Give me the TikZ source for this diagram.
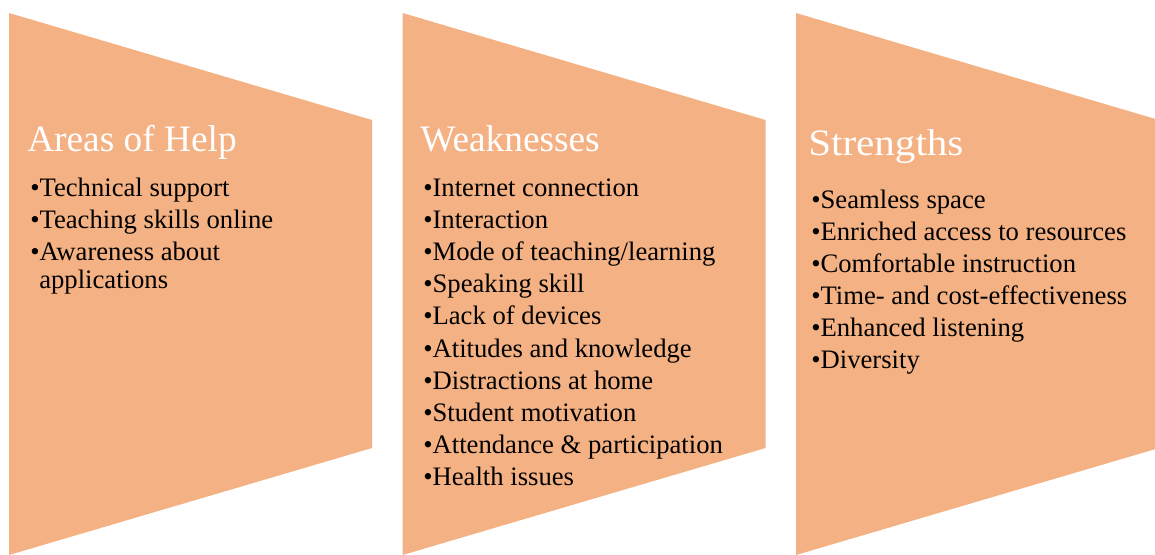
\documentclass[tikz,border=0pt]{standalone}
\usepackage{fontspec}
\setmainfont{Liberation Serif}
\newfontfamily\widefont[FakeStretch=1.1]{Liberation Serif}

\definecolor{panelfill}{HTML}{F4B183}

\tikzset{
    panel/.style={fill=panelfill, draw=none},
    heading/.style={anchor=base west, inner sep=0pt, text=white,
        font=\fontsize{28}{32}\selectfont},
    item/.style={anchor=base west, inner sep=0pt,
        font=\fontsize{20}{24}\selectfont},
}

\begin{document}
\begin{tikzpicture}[x=0.75pt, y=-0.75pt]
    \useasboundingbox (0,0) rectangle (1155,554);

    % Panels
    \foreach \x in {9,402.5,796}
        \fill[panel] (\x,13) -- (\x+363,120) -- (\x+363,448) -- (\x,555) -- cycle;

    % Areas of Help
    \node[heading] (help) at (27,151) {Areas of Help};
    \node[item] (help1) at (30,196) {\textbullet Technical support};
    \node[item] (help2) at (30,228) {\textbullet Teaching skills online};
    \node[item] (help3) at (30,260) {\textbullet Awareness about};
    \node[item] (help3b) at (39,288) {applications};

    % Weaknesses
    \node[heading] (weak) at (420,151) {Weaknesses};
    \foreach \t [count=\i] in {Internet connection, Interaction,
        Mode of teaching/learning, Speaking skill, Lack of devices,
        Atitudes and knowledge, Distractions at home, Student motivation,
        Attendance \& participation, Health issues}
        \node[item] (weak\i) at (423,{196+32.2*(\i-1)}) {\textbullet \t};

    % Strengths
    \node[heading, font=\widefont\fontsize{28}{32}\selectfont] (strong) at (808,155) {Strengths};
    \foreach \t [count=\i] in {Seamless space, Enriched access to resources,
        Comfortable instruction, Time- and cost-effectiveness,
        Enhanced listening, Diversity}
        \node[item] (strong\i) at (811,{208+32*(\i-1)}) {\textbullet \t};

\end{tikzpicture}
\end{document}
